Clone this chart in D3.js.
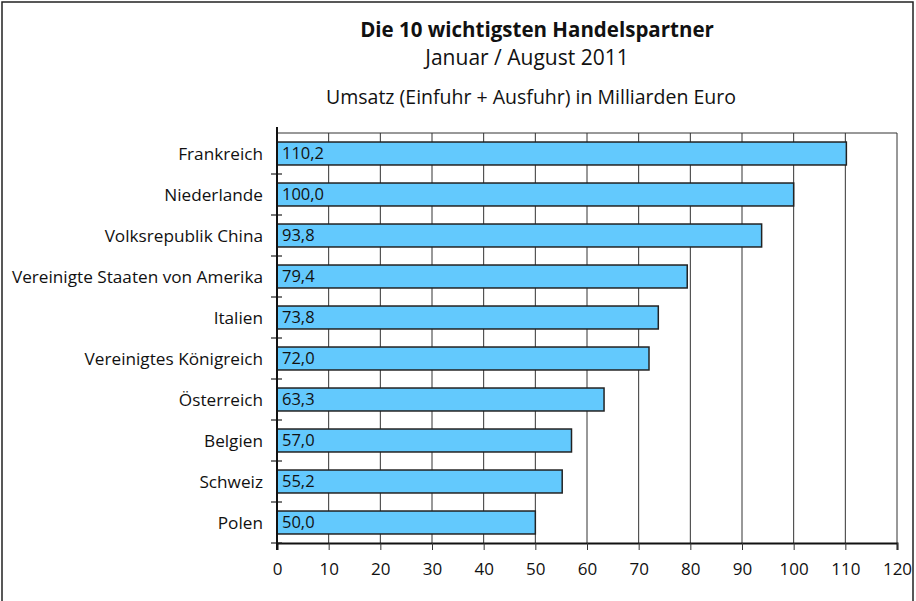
<!DOCTYPE html>
<html><head><meta charset="utf-8">
<script src="https://cdn.jsdelivr.net/npm/d3@7"></script>
<style>
html,body{margin:0;padding:0;background:#fff;}
svg{display:block;font-family:"Open Sans",sans-serif;}
</style></head>
<body>
<svg id="chart" width="916" height="601"></svg>
<script>
const categories = ["Frankreich","Niederlande","Volksrepublik China","Vereinigte Staaten von Amerika","Italien","Vereinigtes Königreich","Österreich","Belgien","Schweiz","Polen"];
const values = [110.2,100.0,93.8,79.4,73.8,72.0,63.3,57.0,55.2,50.0];
const xTicks = [0,10,20,30,40,50,60,70,80,90,100,110,120];
const titleLines = ["Die 10 wichtigsten Handelspartner","Januar / August 2011","Umsatz (Einfuhr + Ausfuhr) in Milliarden Euro"];

(function(){
const svg = d3.select("#chart");
const pL = 277, pR = 897, pT = 133, pB = 543;

// frame
svg.append("path").attr("d","M2,601 V2 H913 V601").attr("fill","none").attr("stroke","#222").attr("stroke-width",1.5);

// titles
const tx = 537;
svg.append("text").attr("x",tx).attr("y",37).attr("text-anchor","middle").attr("font-size",20.5).attr("font-weight","bold").attr("fill","#111").text(titleLines[0]);
svg.append("text").attr("x",527).attr("y",65).attr("text-anchor","middle").attr("font-size",21).attr("fill","#111").text(titleLines[1]);
svg.append("text").attr("x",531).attr("y",104).attr("text-anchor","middle").attr("font-size",19.5).attr("fill","#111").text(titleLines[2]);

const x = d3.scaleLinear().domain([0,120]).range([pL,pR]);
const y = d3.scaleBand().domain(categories).range([pT,pB]).paddingInner(0.44).paddingOuter(0.22);
const yb = d3.scaleBand().domain(categories).range([pT,pB]);

// gridlines
svg.append("g").selectAll("line").data(xTicks.slice(1)).join("line")
  .attr("x1",d=>x(d)).attr("x2",d=>x(d)).attr("y1",pT).attr("y2",pB)
  .attr("stroke","#333").attr("stroke-width",1);
// top border
svg.append("line").attr("x1",pL).attr("x2",pR).attr("y1",pT).attr("y2",pT).attr("stroke","#333");

// x axis
const xAxis = svg.append("g").attr("transform",`translate(0,${pB})`)
  .call(d3.axisBottom(x).tickValues(xTicks).tickSize(7).tickPadding(13).tickFormat(d3.format("d")));
xAxis.select(".domain").attr("stroke","#111").attr("stroke-width",2);
xAxis.selectAll(".tick line").attr("stroke","#333");
xAxis.selectAll("text").attr("font-size",17).attr("fill","#111").attr("font-family","Open Sans, sans-serif");

// y axis boundary ticks
const bounds = categories.slice(1).map(d=>yb(d)).concat([pB]);
svg.append("g").selectAll("line").data(bounds).join("line")
  .attr("x1",pL-6).attr("x2",pL+5).attr("y1",d=>d).attr("y2",d=>d)
  .attr("stroke","#222").attr("stroke-width",1.2);

// bars
svg.append("g").selectAll("rect").data(categories).join("rect")
  .attr("x",x(0)).attr("y",d=>y(d)).attr("width",(d,i)=>x(values[i])-x(0)).attr("height",y.bandwidth())
  .attr("fill","#63c9fd").attr("stroke","#222").attr("stroke-width",1.5);

// bar labels
svg.append("g").selectAll("text").data(categories).join("text")
  .attr("x",x(0)+5).attr("y",d=>y(d)+y.bandwidth()/2).attr("dy","0.36em")
  .attr("font-size",16.5).attr("fill","#111")
  .text((d,i)=>d3.format(".1f")(values[i]).replace(".",","));

// y axis line
svg.append("line").attr("x1",pL).attr("x2",pL).attr("y1",pT-6).attr("y2",pB+7).attr("stroke","#111").attr("stroke-width",2);

// category labels
svg.append("g").selectAll("text").data(categories).join("text")
  .attr("x",263).attr("y",d=>yb(d)+yb.bandwidth()/2).attr("dy","0.36em")
  .attr("text-anchor","end").attr("font-size",17.2).attr("fill","#111").text(d=>d);
})();
</script>
</body></html>
